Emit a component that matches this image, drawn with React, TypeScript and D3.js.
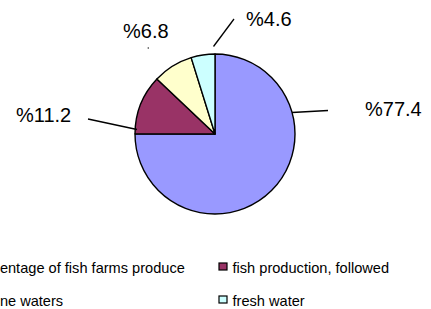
import React from 'react';
import * as d3 from 'd3';

// slice sizes as drawn (percent)
const sliceNames = ['percentage of fish farms produce', 'fish production, followed', 'marine waters', 'fresh water'];
const sliceValues = [74.8, 12.0, 8.1, 4.8];
const sliceLabels = ['%77.4', '%11.2', '%6.8', '%4.6'];
const sliceColors = ['#9999FF', '#993366', '#FFFFCC', '#CCFFFF'];

// label placement (text start, baseline, leader line)
const labelLayout = [
  { x: 365, y: 116, line: [292, 112.5, 328, 110.5] },
  { x: 16, y: 122, line: [137, 129.5, 88, 119] },
  { x: 123, y: 38, line: [148, 47.5, 148.5, 48.5] },
  { x: 246, y: 26, line: [213.5, 46.5, 234, 19] },
];

const W = 431;
const H = 309;
const cx = 215;
const cy = 134;
const R = 80;
const font = '"Liberation Sans", Arial, sans-serif';

const App: React.FC = () => {
  const pie = d3.pie<number>().sort(null).startAngle(0).endAngle(2 * Math.PI);
  const arcs = pie(sliceValues);
  const arc = d3.arc<d3.PieArcDatum<number>>().innerRadius(0).outerRadius(R);

  // legend grid: 2 columns, 2 rows
  const colX = d3.scaleOrdinal<number, number>().domain([0, 1]).range([-42, 219]);
  const rowY = d3.scaleOrdinal<number, number>().domain([0, 1]).range([263, 296]);

  return (
    <svg width={W} height={H} style={{ position: 'absolute', left: 0, top: 0, background: '#fff' }}>
      <g transform={`translate(${cx},${cy})`}>
        {arcs.map((a, i) => (
          <path key={i} d={arc(a) || ''} fill={sliceColors[i]} stroke="#000" strokeWidth={1.4} strokeLinejoin="round" />
        ))}
      </g>
      {labelLayout.map((l, i) => (
        <g key={i}>
          <line x1={l.line[0]} y1={l.line[1]} x2={l.line[2]} y2={l.line[3]} stroke="#000" strokeWidth={1.3} />
          <text x={l.x} y={l.y} fontFamily={font} fontSize={20} fill="#000">
            {sliceLabels[i]}
          </text>
        </g>
      ))}
      {sliceNames.map((name, i) => {
        const col = i % 2;
        const row = Math.floor(i / 2);
        const x = colX(col);
        const y = rowY(row);
        return (
          <g key={name}>
            <rect x={x} y={y} width={8} height={7} fill={sliceColors[i]} stroke="#000" strokeWidth={1.2} />
            <text x={x + 13.5} y={y + 9.5} fontFamily={font} fontSize={14.6} fill="#000">
              {name}
            </text>
          </g>
        );
      })}
    </svg>
  );
};

export default App;
